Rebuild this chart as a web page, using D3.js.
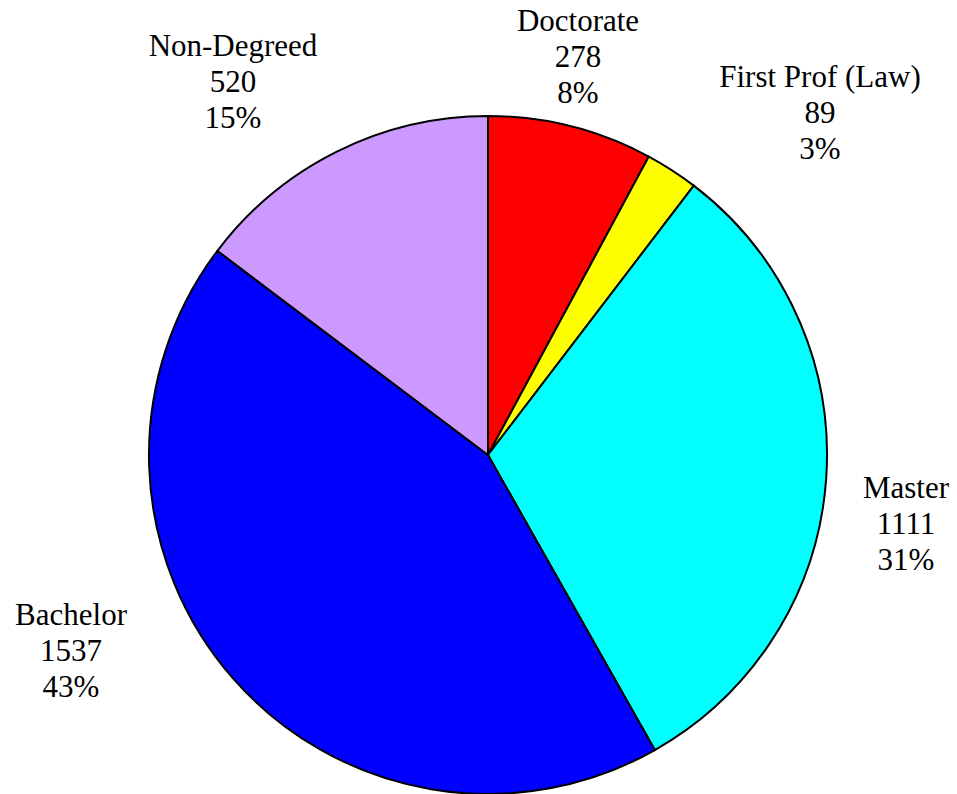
<!DOCTYPE html>
<head>
    <meta charset="utf-8">
    <script src="https://d3js.org/d3.v7.min.js"></script>
    <title>Degree Breakdown</title>
    <style>
        body { margin: 0; background: #ffffff; }
    </style>
</head>
<body>
<svg id="chart" width="957" height="794"></svg>
<script>
// data
var categories = ["Doctorate", "First Prof (Law)", "Master", "Bachelor", "Non-Degreed"];
var counts = [278, 89, 1111, 1537, 520];
var colors = ["#FF0000", "#FFFF00", "#00FFFF", "#0000FF", "#CC99FF"];

// label placement (offset of first baseline from pie centre)
var labelOffsets = [[90, -424], [332, -368], [418, 43], [-417, 170], [-255, -399]];

var width = 957, height = 794;
var cx = 488, cy = 455, radius = 339;

var total = d3.sum(counts);
var rows = categories.map(function(c, i) {
    return {name: c, value: counts[i], color: colors[i], off: labelOffsets[i]};
});

var svg = d3.select("#chart");
var g = svg.append("g").attr("transform", "translate(" + cx + "," + cy + ")");

var pie = d3.pie().sort(null).value(function(d) { return d.value; });
var arc = d3.arc().innerRadius(0).outerRadius(radius);

g.selectAll("path")
    .data(pie(rows))
  .enter().append("path")
    .attr("d", arc)
    .attr("fill", function(d) { return d.data.color; })
    .attr("stroke", "#000000")
    .attr("stroke-width", 2)
    .attr("stroke-linejoin", "round");

var labels = g.selectAll("text.lbl")
    .data(rows)
  .enter().append("text")
    .attr("class", "lbl")
    .attr("font-family", "'Liberation Serif', 'Times New Roman', Times, serif")
    .attr("font-size", "31px")
    .attr("fill", "#000000")
    .attr("text-anchor", "middle")
    .attr("x", function(d) { return d.off[0]; })
    .attr("y", function(d) { return d.off[1]; });

labels.each(function(d) {
    var t = d3.select(this);
    var lines = [d.name, String(d.value), Math.round(d.value / total * 100) + "%"];
    lines.forEach(function(s, k) {
        t.append("tspan")
            .attr("x", d.off[0])
            .attr("dy", k == 0 ? 0 : 36)
            .text(s);
    });
});
</script>
</body>
</html>
